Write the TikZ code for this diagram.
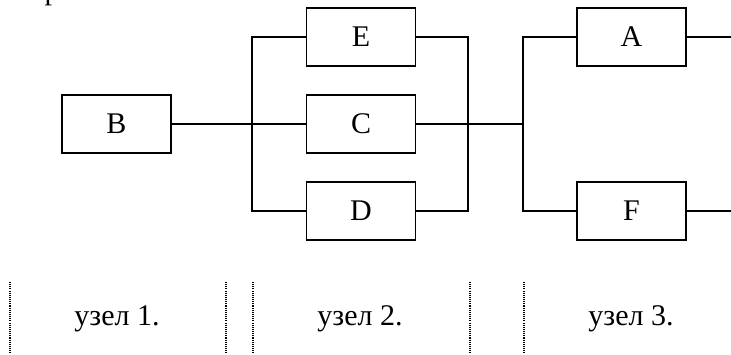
\documentclass[tikz,border=0pt]{standalone}
\usepackage{fontspec}
\setmainfont{Liberation Serif}
\usepackage{tikz}
\usetikzlibrary{calc}

\tikzset{
blok/.style={draw, line width=1.4pt, minimum width=81.75pt, minimum height=43.5pt, inner sep=0pt},
liniya/.style={line width=1.4pt},
granica/.style={line width=0.8pt, dash pattern=on 0.8pt off 0.8pt}
}

\begin{document}
\begin{tikzpicture}[x=0.75pt, y=-0.75pt, font=\fontsize{22.5}{27}\selectfont]
\useasboundingbox (0,0) rectangle (731,354);
\clip (0,0) rectangle (731,354);
\node[anchor=base, inner sep=0pt] (rp) at (52,-1) {р};
\foreach \name/\x/\y in {
B/116.5/124,
E/361/37, C/361/124, D/361/211,
A/631.5/37, F/631.5/211
}{
\node[blok] (\name) at (\x,\y) {\name};
}
\coordinate (s1) at (252,124);
\coordinate (s2) at (468,124);
\coordinate (s3) at (523,124);
\coordinate (outA) at (731,37);
\coordinate (outF) at (731,211);
\draw[liniya] (B) -- (C);
\draw[liniya] (E.west) -| (s1) |- (D.west);
\draw[liniya] (E.east) -| (s2) |- (D.east);
\draw[liniya] (C.east) -- (s3);
\draw[liniya] (A.west) -| (s3) |- (F.west);
\draw[liniya] (A) -- (outA);
\draw[liniya] (F) -- (outF);
\foreach \x in {10, 226, 253, 470, 524}{
\draw[granica] (\x,282) -- (\x,354);
}
\foreach \name/\x/\num in {u1/117/1, u2/360/2, u3/631/3}{
\node (\name) at (\x,319) {узел \num.};
}
\end{tikzpicture}
\end{document}
